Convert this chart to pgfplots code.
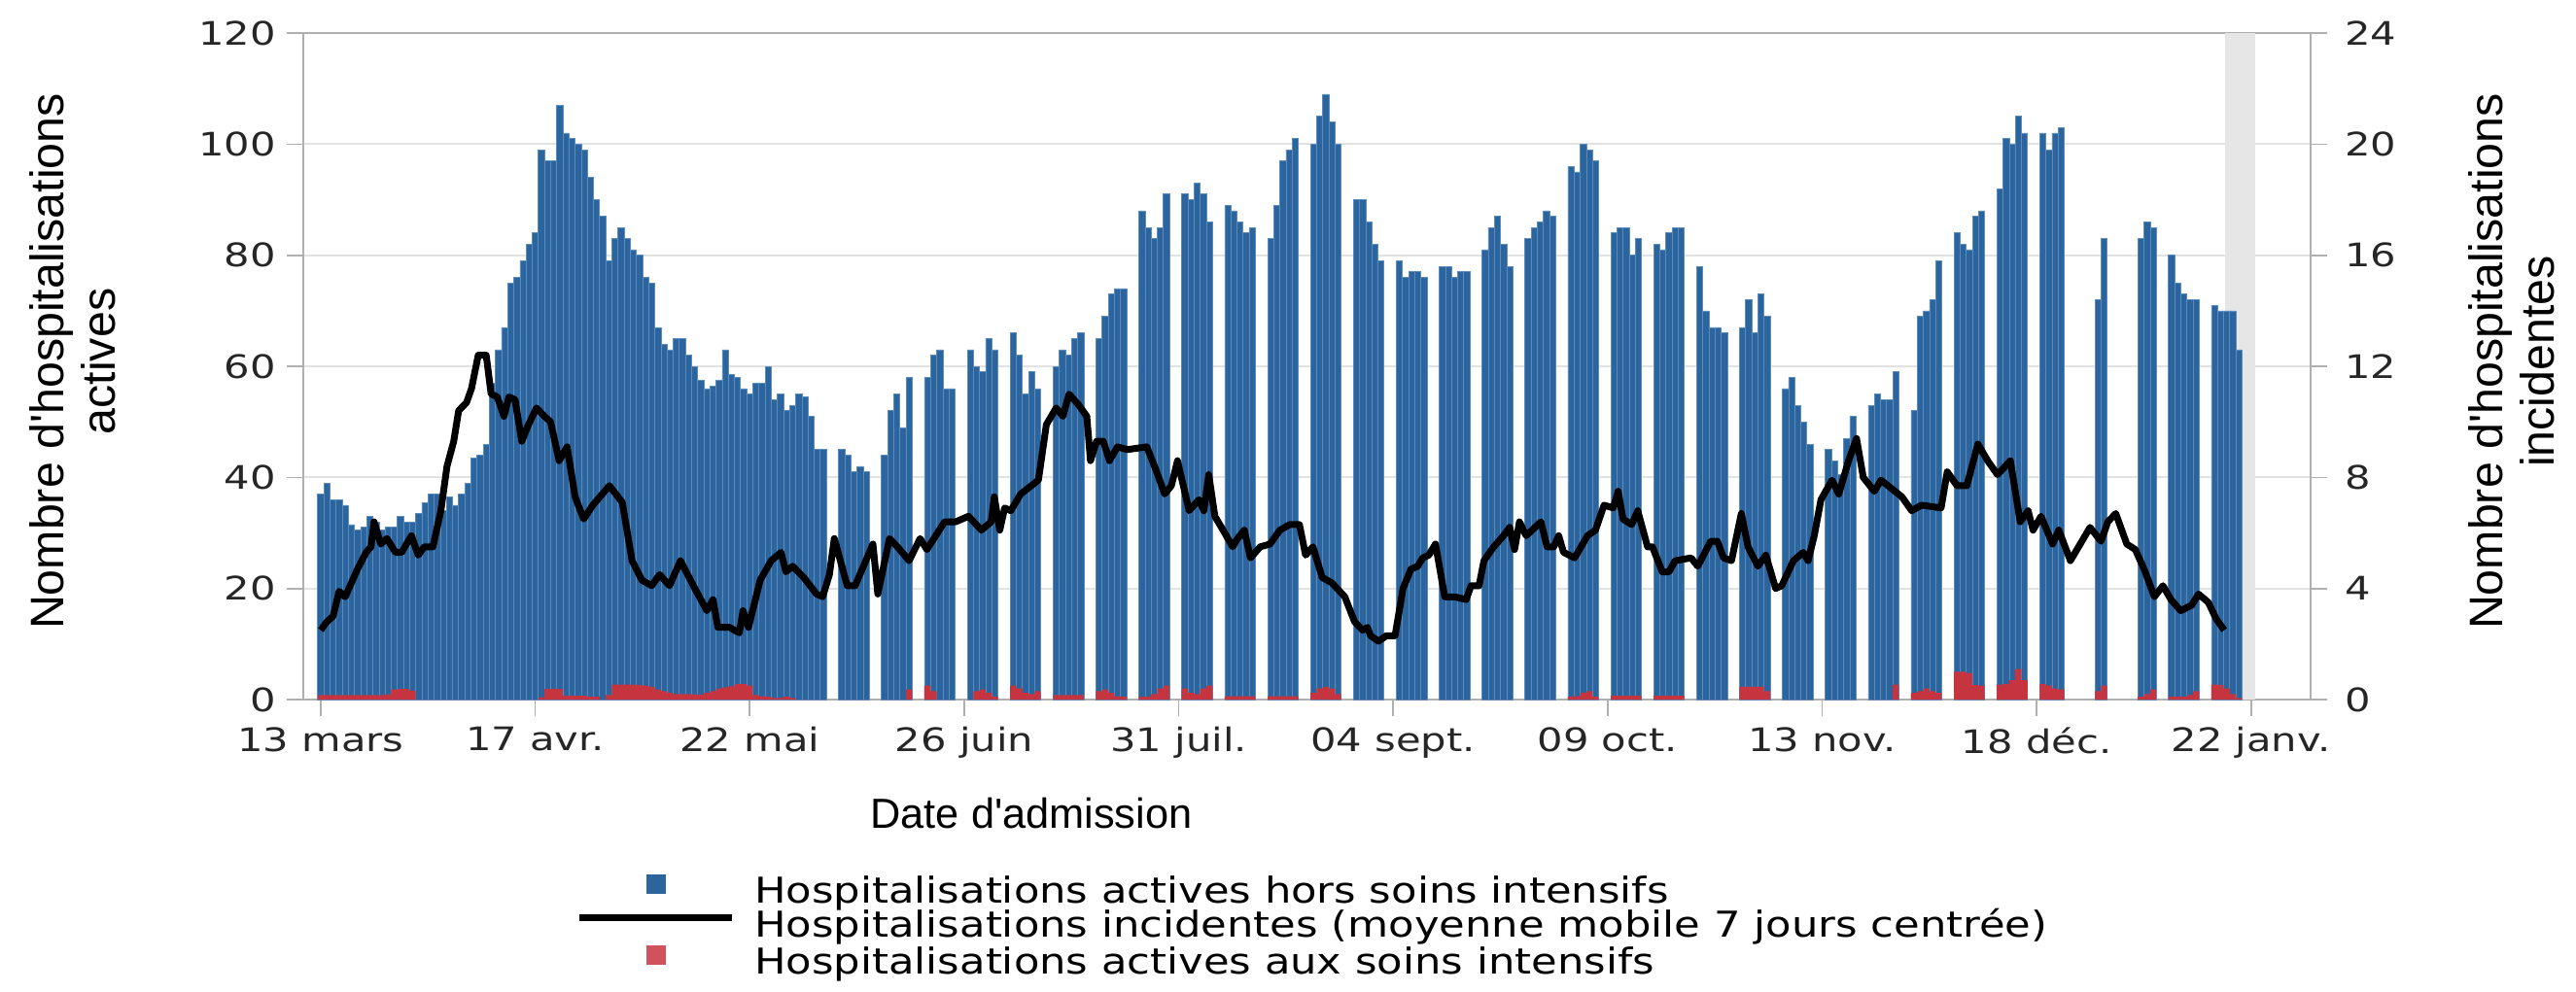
\documentclass[border=0pt]{standalone}
\usepackage{fontspec}
\setmainfont{DejaVu Sans}[FakeStretch=1.25]
\newfontfamily\txt{DejaVu Sans}[FakeStretch=1.18]
\newfontfamily\labfont{Liberation Sans}
\usepackage{pgfplots}
\usepackage{pgfplotstable}
\pgfplotsset{compat=1.18}
\definecolor{cblue}{HTML}{2C659D}
\definecolor{cedge}{HTML}{5A8CBE}
\definecolor{cred}{HTML}{C63440}
\definecolor{gridc}{HTML}{E2E2E2}
\definecolor{framec}{HTML}{B0B0B0}
\definecolor{bandc}{HTML}{E6E6E6}

\pgfplotstableread{
d blue red
0 37 0.8
1 39 0.8
2 36 0.8
3 36 0.8
4 35 0.8
5 31.5 0.8
6 30.5 0.8
7 31 0.8
8 33 0.8
9 32 0.8
10 30.5 0.8
11 31 0.9
12 31 1.8
13 33 1.9
14 32 1.9
15 32 1.6
16 33.5 0
17 35.5 0
18 37 0
19 37 0
20 34 0
21 36.5 0
22 35 0
23 37 0
24 39 0
25 43.5 0
26 44 0
27 46 0
28 57 0
29 63 0
30 67 0
31 75 0
32 76 0
33 79 0
34 82 0
35 84 0
36 99 0.4
37 97 1.9
38 97 1.9
39 107 1.9
40 102 0.7
41 101 0.7
42 100 0.7
43 99 0.7
44 94 0.5
45 90 0.5
46 87 0
47 79 0.8
48 83 2.7
49 85 2.7
50 83 2.7
51 81 2.7
52 80 2.6
53 76 2.5
54 75 2.3
55 67 1.8
56 64 1.5
57 63 1.2
58 65 1.0
59 65 1.0
60 62 1.0
61 60 0.9
62 57.5 0.9
63 56 1.2
64 56.5 1.5
65 57.5 2.0
66 63 2.2
67 58.5 2.4
68 58 2.8
69 56 2.8
70 55 2.5
71 57 0.8
72 57 0.6
73 60 0.5
74 54 0.3
75 55 0.3
76 52 0.5
77 53 0.3
78 55 0
79 54.5 0
80 51 0
81 45 0
82 45 0
85 45 0
86 44 0
87 41 0
88 42 0
89 41 0
92 44 0
93 52 0
94 55 0
95 49 0
96 58 1.8
99 58 2.5
100 62 1.5
101 63 0
102 56 0
103 56 0
106 63 0
107 60 1.5
108 59 1.8
109 65 1.2
110 63 0.5
113 66 2.5
114 62 2.0
115 55 1.2
116 59 1.0
117 56 1.5
120 60 0.8
121 63 0.8
122 62 0.8
123 65 0.8
124 66 0.8
127 65 1.5
128 69 1.8
129 73 1.2
130 74 0.6
131 74 0.5
134 88 0.5
135 85 0.5
136 83 1.0
137 85 2.0
138 91 2.5
141 91 2.0
142 90 1.2
143 93 1.0
144 91 2.0
145 86 2.5
148 89 0.6
149 88 0.6
150 86 0.6
151 84 0.6
152 85 0.6
155 83 0.6
156 89 0.6
157 97 0.6
158 99 0.6
159 101 0.6
162 100 1.2
163 105 2.0
164 109 2.3
165 104 2.0
166 100 1.0
169 90 0
170 90 0
171 86 0
172 82 0
173 79 0
176 79 0
177 76 0
178 77 0
179 77 0
180 76 0
183 78 0
184 78 0
185 76 0
186 77 0
187 77 0
190 81 0
191 85 0
192 87 0
193 82 0
194 78 0
197 83 0
198 85 0
199 86 0
200 88 0
201 87 0
204 96 0.5
205 95 0.6
206 100 1.2
207 99 1.5
208 97 0.5
211 84 0.7
212 85 0.7
213 85 0.7
214 80 0.7
215 83 0.7
218 82 0.7
219 81 0.7
220 84 0.7
221 85 0.7
222 85 0.7
225 78 0
226 70 0
227 67 0
228 67 0
229 66 0
232 67 2.3
233 72 2.3
234 66 2.3
235 73 2.3
236 69 1.5
239 56 0
240 58 0
241 53 0
242 50 0
243 46 0
246 45 0
247 43 0
248 40.5 0
249 47 0
250 51 0
253 53 0
254 55 0
255 54 0
256 54 0
257 59 2.7
260 52 1.2
261 69 1.5
262 70 2.0
263 72 1.5
264 79 1.2
267 84 5.0
268 82 5.0
269 81 4.8
270 87 2.6
271 88 2.5
274 92 2.7
275 101 2.8
276 100 3.5
277 105 5.5
278 102 3.5
281 102 2.8
282 99 2.5
283 102 2.0
284 103 1.8
290 72 1.5
291 83 2.5
297 83 0.5
298 86 1.0
299 85 1.8
302 80 0.5
303 75 0.5
304 73 0.5
305 72 0.8
306 72 1.5
309 71 2.7
310 70 2.6
311 70 2.0
312 70 1.0
313 63 0.3
}\bars

\pgfplotstableread{
d v
0 2.5
1 2.8
2 3.0
3 3.9
4 3.7
6 4.7
7.4 5.3
8.2 5.5
8.7 6.4
9.8 5.6
10.8 5.8
12.2 5.3
13.2 5.3
14.8 5.9
15.9 5.2
16.9 5.5
18.3 5.5
19.6 6.8
20.6 8.4
21.7 9.3
22.5 10.4
23.8 10.7
24.6 11.2
25.7 12.4
27 12.4
27.8 11.0
28.8 10.9
29.9 10.2
30.7 10.9
31.7 10.8
32.8 9.3
33.9 9.9
35.2 10.5
36.5 10.2
37.5 10.0
38.9 8.6
40.2 9.1
41.5 7.3
42.9 6.5
44.4 7.0
47.1 7.7
49.2 7.1
50.8 5.0
52.4 4.3
54 4.1
55.3 4.5
56.9 4.1
58.7 5.0
60.8 4.1
63 3.2
64 3.6
64.8 2.6
66.7 2.6
68.3 2.4
68.9 3.2
69.8 2.6
71.7 4.3
73.5 5.0
75.1 5.3
75.9 4.6
77 4.8
78.8 4.4
80.9 3.8
81.9 3.7
83 4.5
83.8 5.8
85.9 4.1
87.2 4.1
90.1 5.6
90.9 3.8
92.8 5.8
94.1 5.5
96 5.0
97.8 5.8
98.9 5.4
101.8 6.4
103.6 6.4
105.7 6.6
107.8 6.1
109.4 6.4
109.9 7.3
110.8 6.1
111.6 6.9
112.6 6.8
114.2 7.4
117.1 7.9
118.4 9.9
120 10.5
121.1 10.2
122.1 11.0
123.7 10.6
125 10.2
125.6 8.6
126.6 9.3
127.7 9.3
128.7 8.6
130 9.1
131.6 9.0
134.8 9.1
136.4 8.2
137.7 7.4
138.8 7.7
139.8 8.6
141.7 6.8
143.3 7.2
144.1 6.8
144.9 8.1
145.9 6.6
147.5 6.0
148.8 5.5
149.6 5.8
150.7 6.1
151.7 5.1
153.3 5.5
154.9 5.6
156.5 6.1
158.1 6.3
159.7 6.3
160.7 5.2
161.9 5.5
163.4 4.4
165 4.2
167.1 3.7
168.7 2.8
170 2.5
170.8 2.6
171.3 2.3
172.6 2.1
173.9 2.3
175.3 2.3
176.6 4.0
177.9 4.7
179 4.8
179.8 5.1
180.8 5.2
181.9 5.6
183.4 3.7
185 3.7
186.9 3.6
187.7 4.1
189 4.1
189.8 5.0
191.4 5.5
193 5.9
194 6.2
194.8 5.4
195.6 6.4
196.7 5.9
199.1 6.4
200.1 5.5
201.2 5.5
202 5.9
202.8 5.3
204.6 5.1
206.7 5.9
208 6.1
209.4 7.0
210.9 6.9
211.7 7.5
212.5 6.5
213.9 6.3
214.9 6.8
216.5 5.5
217.3 5.5
218.9 4.6
220 4.6
221 5.0
223.6 5.1
224.7 4.8
226.8 5.7
227.9 5.7
228.9 5.1
230.2 5.0
231.8 6.7
232.9 5.5
234.5 4.8
235.8 5.2
237.4 4.0
238.4 4.1
240.3 5.0
241.9 5.3
242.7 5.0
243.7 5.9
244.8 7.2
246.6 7.9
247.7 7.4
249.3 8.6
250.6 9.4
251.7 8.0
253.5 7.5
254.6 7.9
258 7.3
259.6 6.8
261.2 7.0
264.4 6.9
265.4 8.2
267 7.7
268.6 7.7
270.4 9.2
272 8.6
273.6 8.1
275.7 8.6
277.3 6.4
278.6 6.8
279.4 6.1
280.7 6.6
282.6 5.6
283.6 6.1
285.5 5.0
287.1 5.6
288.7 6.2
290.5 5.7
291.6 6.4
292.9 6.7
294.7 5.6
296.1 5.4
297.7 4.6
299.2 3.7
300.6 4.1
301.9 3.6
303.5 3.2
305.3 3.4
306.4 3.8
308 3.5
309.3 2.9
310.6 2.5
}\inc

\begin{document}
\begin{tikzpicture}
\useasboundingbox (-93.6pt,-90pt) rectangle (701.4pt,216pt);
\begin{axis}[
  at={(0pt,0pt)}, anchor=south west,
  scale only axis, width=619.5pt, height=205.8pt,
  xmin=-2.85, xmax=324.7, ymin=0, ymax=120,
  axis line style={framec, line width=0.5pt},
  xtick={0,35,...,315},
  xticklabels={13 mars,17 avr.,22 mai,26 juin,31 juil.,04 sept.,09 oct.,13 nov.,18 déc.,22 janv.},
  ytick={0,20,...,120},
  xtick pos=bottom, ytick pos=left,
  tick align=outside, major tick length=5pt,
  tick style={framec, line width=0.5pt},
  ymajorgrids, grid style={gridc, line width=0.6pt},
  ticklabel style={font=\fontsize{10}{12}\selectfont, text=black!85},
  /pgf/number format/assume math mode=true,
]
\addplot[draw=none, fill=bandc] coordinates {(310.8,0) (310.8,120) (315.7,120) (315.7,0)} -- cycle;
\addplot[ybar, bar width=1, bar shift=0pt, fill=cblue, draw=cedge, line width=0.2pt] table[x=d, y=blue] {\bars};
\addplot[ybar, bar width=1, bar shift=0pt, fill=cred, draw=none] table[x=d, y=red] {\bars};
\end{axis}
\begin{axis}[
  at={(0pt,0pt)}, anchor=south west,
  scale only axis, width=619.5pt, height=205.8pt,
  xmin=-2.85, xmax=324.7, ymin=0, ymax=24,
  axis x line=none, axis y line*=right,
  axis line style={framec, line width=0.5pt},
  ytick={0,4,...,24},
  tick align=outside, major tick length=5pt,
  tick style={framec, line width=0.5pt},
  ticklabel style={font=\fontsize{10}{12}\selectfont, text=black!85},
  yticklabel style={xshift=2pt},
  /pgf/number format/assume math mode=true,
  legend cell align=left,
  legend style={at={(0.1356,-0.2609)}, anchor=north west, draw=none, fill=none,
    inner sep=0pt, row sep=0.2pt, /tikz/column sep=3pt,
    font=\txt\fontsize{11}{12}\selectfont,
    nodes={inner xsep=3pt, inner ysep=0pt, text height=7.8pt, text depth=2.4pt}},
]
\addlegendimage{legend image code/.code={\path[draw=none,fill=none] (0pt,3.3pt) -- (47pt,3.3pt); \fill[cblue,draw=none] (20.5pt,0.3pt) rectangle (26.5pt,6.3pt);}}
\addlegendentry{Hospitalisations actives hors soins intensifs}
\addplot[black, line width=2.1pt, line join=round,
  legend image code/.code={\draw[black, line width=2.1pt] (0pt,3.3pt) -- (47pt,3.3pt);}] table[x=d, y=v] {\inc};
\addlegendentry{Hospitalisations incidentes (moyenne mobile 7 jours centrée)}
\addlegendimage{legend image code/.code={\path[draw=none,fill=none] (0pt,3.3pt) -- (47pt,3.3pt); \fill[cred!85!white,draw=none] (20.5pt,0.3pt) rectangle (26.5pt,6.3pt);}}
\addlegendentry{Hospitalisations actives aux soins intensifs}
\end{axis}
\node[rotate=90, align=center, font=\labfont\fontsize{14.5}{16}\selectfont] at (-71.1pt,104.4pt) {Nombre d'hospitalisations\\actives};
\node[rotate=90, align=center, font=\labfont\fontsize{14.5}{16}\selectfont] at (681.6pt,104.4pt) {Nombre d'hospitalisations\\incidentes};
\node[font=\labfont\fontsize{13}{15}\selectfont] at (224.7pt,-35.1pt) {Date d'admission};
\end{tikzpicture}
\end{document}
